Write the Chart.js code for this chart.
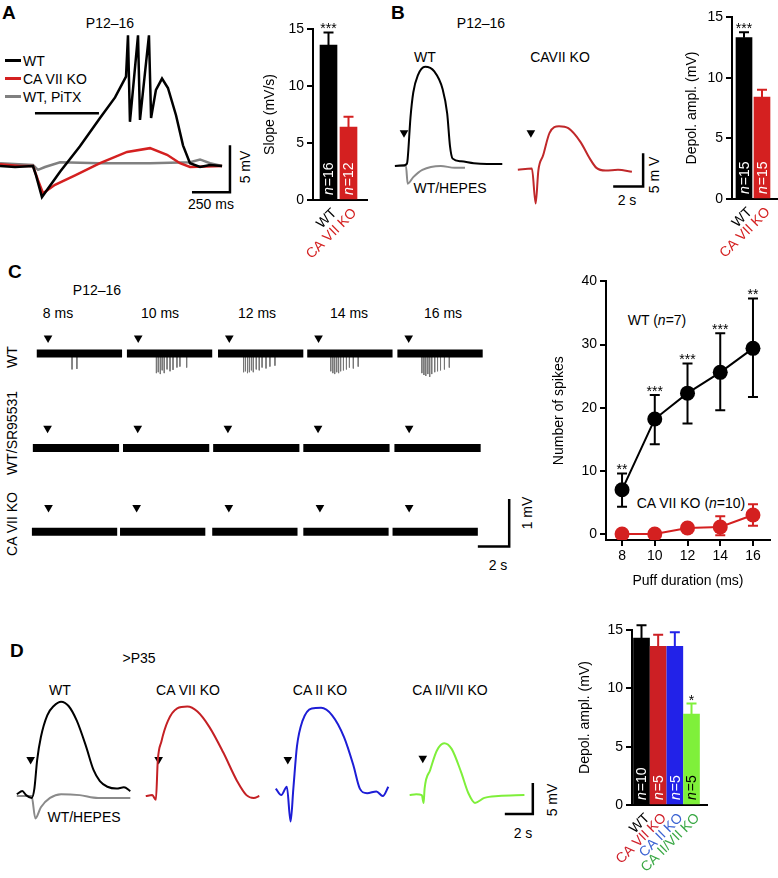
<!DOCTYPE html>
<html>
<head>
<meta charset="UTF-8">
<title>CA VII depolarization figure</title>
<script src="https://cdn.jsdelivr.net/npm/chart.js"></script>
<style>
body { margin: 0; background: #fff; font-family: 'Liberation Sans', Arial, sans-serif; color: #000; }
#fig { position: relative; width: 778px; height: 878px; overflow: hidden; }
canvas { position: absolute; }
.t { position: absolute; font-size: 14px; line-height: 1; white-space: nowrap; transform: translate(-50%, -50%); }
.rot { transform: translate(-50%, -50%) rotate(-90deg); }
.pl { position: absolute; font-size: 19px; font-weight: bold; line-height: 1; }
.leg { position: absolute; height: 3px; width: 16px; }
</style>
</head>
<body>
<div id="fig">
    <!-- panel A -->
    <div class="pl" style="left:2px; top:3px;">A</div>
    <div class="t" style="left:110px; top:23px;">P12–16</div>
    <div class="leg" style="left:5px; top:59px; background:#000;"></div>
    <div class="t" style="left:23px; top:61px; transform:translate(0,-50%);">WT</div>
    <div class="leg" style="left:5px; top:77px; background:#d42020;"></div>
    <div class="t" style="left:23px; top:79px; transform:translate(0,-50%);">CA VII KO</div>
    <div class="leg" style="left:5px; top:95px; background:#808080;"></div>
    <div class="t" style="left:23px; top:97px; transform:translate(0,-50%);">WT, PiTX</div>
    <div class="t rot" style="left:245px; top:167px;">5 mV</div>
    <div class="t" style="left:211px; top:204px;">250 ms</div>
    <canvas id="traceA" width="240" height="200" style="left:0; top:20px;"></canvas>
    <canvas id="barA" width="119" height="250" style="left:258px; top:10px;"></canvas>

    <!-- panel B -->
    <div class="pl" style="left:391px; top:3px;">B</div>
    <div class="t" style="left:481px; top:23px;">P12–16</div>
    <div class="t" style="left:425px; top:57px;">WT</div>
    <div class="t" style="left:560px; top:57px;">CAVII KO</div>
    <div class="t" style="left:450px; top:188px;">WT/HEPES</div>
    <div class="t" style="left:627px; top:200px;">2 s</div>
    <div class="t rot" style="left:654px; top:175px;">5 m V</div>
    <canvas id="traceBwt" width="122" height="180" style="left:388px; top:40px;"></canvas>
    <canvas id="traceBko" width="155" height="180" style="left:510px; top:40px;"></canvas>
    <canvas id="barB" width="98" height="254" style="left:680px; top:5px;"></canvas>

    <!-- panel C -->
    <div class="pl" style="left:8px; top:262px;">C</div>
    <div class="t" style="left:97px; top:290px;">P12–16</div>
    <div class="t" style="left:58px; top:313px;">8 ms</div>
    <div class="t" style="left:160px; top:313px;">10 ms</div>
    <div class="t" style="left:257px; top:313px;">12 ms</div>
    <div class="t" style="left:349px; top:313px;">14 ms</div>
    <div class="t" style="left:443px; top:313px;">16 ms</div>
    <div class="t rot" style="left:12px; top:357px;">WT</div>
    <div class="t rot" style="left:12px; top:433px;">WT/SR95531</div>
    <div class="t rot" style="left:12px; top:524px;">CA VII KO</div>
    <div class="t rot" style="left:527px; top:513px;">1 mV</div>
    <div class="t" style="left:498px; top:565px;">2 s</div>
    <div class="t" style="left:657px; top:320px;">WT (<i>n</i>=7)</div>
    <div class="t" style="left:691px; top:503px;">CA VII KO (<i>n</i>=10)</div>
    <canvas id="rowWT" width="500" height="68" style="left:20px; top:322px;"></canvas>
    <canvas id="rowSR" width="500" height="50" style="left:20px; top:415px;"></canvas>
    <canvas id="rowKO" width="500" height="72" style="left:20px; top:488px;"></canvas>
    <canvas id="spikesC" width="238" height="320" style="left:540px; top:270px;"></canvas>

    <!-- panel D -->
    <div class="pl" style="left:10px; top:641px;">D</div>
    <div class="t" style="left:139px; top:658px;">&gt;P35</div>
    <div class="t" style="left:60px; top:690px;">WT</div>
    <div class="t" style="left:188px; top:690px;">CA VII KO</div>
    <div class="t" style="left:320px; top:690px;">CA II KO</div>
    <div class="t" style="left:450px; top:690px;">CA II/VII KO</div>
    <div class="t" style="left:84px; top:817px;">WT/HEPES</div>
    <div class="t rot" style="left:552px; top:800px;">5 mV</div>
    <div class="t" style="left:523px; top:833px;">2 s</div>
    <canvas id="traceDwt" width="130" height="170" style="left:10px; top:680px;"></canvas>
    <canvas id="traceDca7" width="130" height="170" style="left:138px; top:680px;"></canvas>
    <canvas id="traceDca2" width="130" height="170" style="left:268px; top:680px;"></canvas>
    <canvas id="traceDca27" width="150" height="170" style="left:400px; top:680px;"></canvas>
    <canvas id="barD" width="144" height="265" style="left:573px; top:610px;"></canvas>
</div>

<script>
// ---------------- data ----------------
// A: ramp responses (time ms, membrane potential mV)
var aT_wt = [0, 99, 217, 237, 276, 395, 526, 658, 757, 829, 842, 855, 908, 921, 980, 994, 1026, 1066, 1105, 1158, 1204, 1250, 1316, 1382, 1461];
var aV_wt = [0, -0.1, 0, -1.0, -3.3, -0.6, 2.1, 5.1, 7.3, 9.5, 13.9, 4.7, 13.9, 4.9, 13.9, 5.1, 8.1, 9.3, 8.3, 5.4, 2.2, 0.3, -0.1, 0.1, 0];
var aT_ko = [0, 132, 217, 250, 283, 362, 494, 658, 836, 987, 1099, 1184, 1250, 1461];
var aV_ko = [0.2, 0, 0, -1.5, -2.9, -2.0, -1.0, 0.3, 1.5, 1.9, 1.2, 0.3, -0.1, 0];
var aT_pitx = [0, 217, 250, 296, 395, 658, 987, 1250, 1316, 1382, 1461];
var aV_pitx = [0.3, 0.1, -0.4, -0.1, 0.4, 0.3, 0.3, 0.4, 0.7, 0.3, 0];
var aPuffT = [230, 651];
var aPuffV = [5.6, 5.6];
var aScaleT = [1263, 1513, 1513];
var aScaleV = [-2.8, -2.8, 2.2];

// A: slope bar chart
var slopeCats = ['WT', 'CA VII KO'];
var slopeMean = [13.6, 6.4];
var slopeSem = [1.1, 0.9];
var slopeN = [16, 12];
var slopeStars = ['***', ''];

// B: depolarizations (time s, mV)
var bT_wt = [0.13, 0.75, 0.94, 1.0, 1.19, 1.38, 1.69, 2.19, 2.81, 3.38, 3.69, 3.88, 4.06, 4.63, 5.5, 6.4, 7.44];
var bV_wt = [0, 0.1, 0.3, 1.1, 7.3, 11.1, 13.7, 15.0, 14.3, 11.6, 7.9, 3.0, 1.1, 0.7, 0.4, 0.3, 0.3];
var bT_hepes = [0.13, 0.88, 1.0, 1.38, 2.0, 3.25, 4.2, 4.9];
var bV_hepes = [0, 0, -2.7, -1.7, -0.6, 0, -0.3, -0.3];
var bT_ko = [0.19, 1.13, 1.38, 1.56, 1.88, 2.31, 2.94, 3.56, 4.38, 5.0, 5.44, 6.06, 6.88, 7.81];
var bV_ko = [-0.6, -0.4, -5.7, -0.7, 1.6, 5.0, 6.0, 5.7, 3.6, 1.1, -0.3, -0.7, -0.6, -0.9];
var bPuffWT = [0.75, 5];
var bPuffKO = [1.06, 5];
var bScaleT = [6.56, 8.56, 8.56];
var bScaleV = [-3.1, -3.1, 1.9];

// B: amplitude bar chart
var ampCatsB = ['WT', 'CA VII KO'];
var ampMeanB = [13.3, 8.4];
var ampSemB = [0.45, 0.6];
var ampNB = [15, 15];
var ampStarsB = ['***', ''];

// C: extracellular recordings, sweep start times (s)
var cStartWT = [0.75, 6.5, 12.31, 18, 23.75];
var cStartSR = [0.5, 6.25, 12, 17.75, 23.56];
var cStartKO = [0.44, 6.06, 11.94, 17.75, 23.44];
var cLenWT = 5.44, cLenSR = 5.5, cLenKO = 5.44;
var cPuffWT = 0.72, cPuffSR = 0.94, cPuffKO = 1.06;
// WT spikes: times after sweep start (s) and amplitudes (mV)
var cSpikeT = [
    [2.25, 2.56],
    [1.88, 2.0, 2.13, 2.25, 2.38, 2.56, 2.75, 2.94, 3.19, 3.38, 3.81],
    [1.63, 1.75, 1.88, 2.0, 2.13, 2.25, 2.44, 2.63, 2.81, 3.06, 3.31, 3.63],
    [1.5, 1.63, 1.75, 1.88, 2.0, 2.13, 2.31, 2.5, 2.69, 2.94, 3.25],
    [1.56, 1.69, 1.81, 1.94, 2.06, 2.19, 2.38, 2.56, 2.75, 3.0, 3.31]
];
var cSpikeV = [
    [-0.34, -0.33],
    [-0.42, -0.4, -0.44, -0.36, -0.42, -0.34, -0.38, -0.35, -0.3, -0.28, -0.3],
    [-0.4, -0.38, -0.42, -0.4, -0.36, -0.4, -0.34, -0.36, -0.3, -0.32, -0.28, -0.26],
    [-0.38, -0.42, -0.44, -0.4, -0.42, -0.38, -0.36, -0.34, -0.3, -0.32, -0.28],
    [-0.42, -0.46, -0.48, -0.44, -0.5, -0.44, -0.4, -0.38, -0.36, -0.34, -0.3]
];
var cScaleT = [28.88, 30.88, 30.88];
var cScaleV = [-0.31, -0.31, 0.69];

// C: number of spikes vs puff duration
var puffMs = [8, 10, 12, 14, 16];
var spikesWT = [7.0, 18.2, 22.3, 25.6, 29.4];
var spikesWTlo = [4.3, 14.2, 17.5, 19.6, 21.7];
var spikesWThi = [9.6, 22.0, 27.0, 31.8, 37.3];
var spikesKO = [0, 0, 0.95, 1.1, 3.0];
var spikesKOlo = [0, 0, 0.7, -0.2, 1.3];
var spikesKOhi = [0, 0, 1.2, 2.8, 4.7];
var spikesStars = ['**', '***', '***', '***', '**'];

// D: depolarizations >P35 (time s, mV)
var dT_wt = [0.13, 0.53, 0.8, 1.2, 1.4, 1.6, 1.87, 2.33, 2.8, 3.33, 3.87, 4.47, 5.13, 5.67, 6.13, 6.67, 7.33, 7.87, 8.33];
var dV_wt = [0.3, 0.8, 0.15, -0.3, 1.2, 5.8, 9.5, 13.0, 14.5, 15.2, 14.5, 12.1, 8.0, 4.2, 2.4, 1.5, 1.2, 1.4, 0.8];
var dT_hepes = [0.13, 1.2, 1.47, 1.87, 2.53, 3.33, 4.67, 6, 8.33];
var dV_hepes = [0, 0, -3.6, -1.8, -0.3, 0.3, 0.15, -0.3, -0.3];
var dT_ca7 = [0.2, 0.67, 0.93, 1.07, 1.33, 1.8, 2.47, 3.2, 3.93, 4.8, 5.8, 6.8, 7.47, 8, 8.4];
var dV_ca7 = [0, 0.15, -0.6, 5.8, 8.8, 12.1, 14.1, 14.4, 13.6, 11.1, 7.0, 2.4, 0.15, -0.3, 0];
var dT_ca2 = [0.2, 0.6, 1.0, 1.27, 1.47, 1.73, 2.13, 2.8, 3.47, 4.27, 5.13, 5.8, 6.27, 6.8, 7.47, 7.93, 8.33];
var dV_ca2 = [1.2, 0.15, 1.5, -4.1, 1.2, 8.0, 12.1, 14.1, 14.2, 13.0, 9.5, 5.0, 1.2, 0.45, 0.75, 0, 1.5];
var dT_ca27 = [0.33, 0.8, 1.2, 1.33, 1.4, 1.8, 2.27, 2.8, 3.33, 4.0, 4.53, 5.0, 5.67, 6.67, 8.53];
var dV_ca27 = [0.15, 0.3, 0.15, -1.1, 1.2, 4.2, 7.3, 8.5, 7.6, 3.9, 0.45, -1.1, -0.3, 0, 0.15];
var dPuffT = [1.13, 1.13, 1.07, 1.27];
var dPuffV = [5.9, 5.9, 5.9, 6.1];
var dScaleT = [7.13, 9.13, 9.13];
var dScaleV = [-2.9, -2.9, 2.1];

// D: amplitude bar chart
var ampCatsD = ['WT', 'CA VII KO', 'CA II KO', 'CA II/VII KO'];
var ampMeanD = [14.3, 13.6, 13.6, 7.8];
var ampSemD = [1.1, 1.0, 1.2, 0.9];
var ampND = [10, 5, 5, 5];
var ampStarsD = ['', '', '', '*'];

// ---------------- helpers ----------------
Chart.defaults.font.family = "'Liberation Sans', Arial, sans-serif";
Chart.defaults.font.size = 14;
Chart.defaults.color = '#000';

var RED = '#d42020';

function pts(xs, ys) {
    return xs.map(function (x, i) { return { x: x, y: ys[i] }; });
}

function trace(xs, ys, color, width, tension) {
    return {
        data: pts(xs, ys), borderColor: color, borderWidth: width || 2,
        pointRadius: 0, tension: tension || 0, cubicInterpolationMode: tension ? 'monotone' : 'default',
        clip: false
    };
}

function arrows(xs, ys) {
    return {
        data: pts(xs, ys), showLine: false, pointStyle: 'triangle', rotation: 180,
        pointRadius: 5, pointBackgroundColor: '#000', pointBorderWidth: 0, clip: false
    };
}

function scaleBar(xs, ys) {
    return { data: pts(xs, ys), borderColor: '#000', borderWidth: 2.5, pointRadius: 0, clip: false };
}

// sweeps drawn as thick bands, separated by gaps
function sweeps(starts, len, width) {
    var d = [];
    starts.forEach(function (s) {
        d.push({ x: s, y: 0 }, { x: s + len, y: 0 }, { x: s + len, y: null });
    });
    return { data: d, borderColor: '#000', borderWidth: width, pointRadius: 0, spanGaps: false, borderCapStyle: 'butt', clip: false };
}

function spikeLines(starts, times, amps) {
    var d = [];
    starts.forEach(function (s, k) {
        times[k].forEach(function (t, j) {
            d.push({ x: s + t, y: 0 }, { x: s + t, y: amps[k][j] }, { x: s + t, y: null });
        });
    });
    return { data: d, borderColor: '#777', borderWidth: 1, pointRadius: 0, spanGaps: false, clip: false };
}

function traceChart(id, sets, xr, yr) {
    return new Chart(document.getElementById(id), {
        type: 'line',
        data: { datasets: sets },
        options: {
            animation: false, responsive: false, events: [],
            layout: { padding: 0 },
            plugins: { legend: { display: false }, tooltip: { enabled: false } },
            scales: {
                x: { type: 'linear', display: false, min: xr[0], max: xr[1] },
                y: { display: false, min: yr[0], max: yr[1] }
            }
        }
    });
}

// error bars, stars and n labels on bar charts
var barMarks = {
    id: 'barMarks',
    afterDatasetsDraw: function (chart) {
        var o = chart.options.plugins.barMarks;
        var y = chart.scales.y;
        var ctx = chart.ctx;
        ctx.save();
        chart.getDatasetMeta(0).data.forEach(function (bar, i) {
            var top = y.getPixelForValue(o.mean[i] + o.sem[i]);
            ctx.strokeStyle = o.colors[i];
            ctx.lineWidth = 2;
            ctx.beginPath();
            ctx.moveTo(bar.x, bar.y);
            ctx.lineTo(bar.x, top);
            ctx.moveTo(bar.x - 5, top);
            ctx.lineTo(bar.x + 5, top);
            ctx.stroke();
            if (o.stars[i]) {
                ctx.fillStyle = '#000';
                ctx.font = "14px 'Liberation Sans', Arial";
                ctx.textAlign = 'center';
                ctx.textBaseline = 'alphabetic';
                ctx.fillText(o.stars[i], bar.x, top + 1);
            }
            ctx.save();
            ctx.translate(bar.x, bar.base - 4);
            ctx.rotate(-Math.PI / 2);
            ctx.fillStyle = o.nColors[i];
            ctx.textAlign = 'left';
            ctx.textBaseline = 'middle';
            ctx.font = "italic 14px 'Liberation Sans', Arial";
            ctx.fillText('n', 0, 1);
            var w = ctx.measureText('n').width;
            ctx.font = "14px 'Liberation Sans', Arial";
            ctx.fillText('=' + o.n[i], w + 1, 1);
            ctx.restore();
        });
        ctx.restore();
    }
};

function barChart(id, cfg) {
    return new Chart(document.getElementById(id), {
        type: 'bar',
        data: {
            datasets: [{
                data: cfg.mean.map(function (v, i) { return { x: i, y: v }; }),
                backgroundColor: cfg.colors, borderWidth: 0, barThickness: cfg.barW
            }]
        },
        options: {
            animation: false, responsive: false, events: [],
            layout: { padding: { top: cfg.padTop, right: cfg.padRight, left: 0, bottom: 0 } },
            plugins: {
                legend: { display: false }, tooltip: { enabled: false },
                barMarks: {
                    mean: cfg.mean, sem: cfg.sem, n: cfg.n, stars: cfg.stars,
                    colors: cfg.colors, nColors: cfg.nColors
                }
            },
            scales: {
                x: {
                    type: 'linear', min: cfg.xRange[0], max: cfg.xRange[1], offset: false,
                    grid: { display: false },
                    border: { display: true, color: '#000', width: 2 },
                    afterBuildTicks: function (s) { s.ticks = cfg.cats.map(function (c, i) { return { value: i }; }); },
                    afterFit: function (s) { s.height = cfg.xH; },
                    ticks: {
                        autoSkip: false, minRotation: 45, maxRotation: 45, padding: -3, labelOffset: 6,
                        color: function (c) { return cfg.labelColors[c.index]; },
                        callback: function (v) { return cfg.cats[v]; }
                    }
                },
                y: {
                    min: 0, max: 15,
                    afterBuildTicks: function (s) { s.ticks = [0, 5, 10, 15].map(function (v) { return { value: v }; }); },
                    afterFit: function (s) { s.width = cfg.yW; },
                    grid: { drawOnChartArea: false, drawTicks: true, tickLength: 6, color: '#000', lineWidth: 2 },
                    border: { display: true, color: '#000', width: 2 },
                    ticks: { padding: 3 },
                    title: { display: true, text: cfg.yTitle, padding: { top: 4, bottom: 0 } }
                }
            }
        },
        plugins: [barMarks]
    });
}

// ---------------- panel A ----------------
traceChart('traceA', [
    trace(aT_wt, aV_wt, '#000', 2.5),
    trace(aT_ko, aV_ko, RED, 2.5),
    trace(aT_pitx, aV_pitx, '#808080', 2.5),
    scaleBar(aPuffT, aPuffV),
    scaleBar(aScaleT, aScaleV)
], [0, 1579], [-5.74, 15.53]);

barChart('barA', {
    cats: slopeCats, mean: slopeMean, sem: slopeSem, n: slopeN, stars: slopeStars,
    colors: ['#000', RED], nColors: ['#fff', '#fff'], labelColors: ['#000', RED],
    yTitle: 'Slope (mV/s)', barW: 17, xRange: [-0.775, 1.925],
    padTop: 19, padRight: 10, yW: 55, xH: 60
});

// ---------------- panel B ----------------
traceChart('traceBwt', [
    trace(bT_wt, bV_wt, '#000', 2, 0.4),
    trace(bT_hepes, bV_hepes, '#8a8a8a', 2, 0.4),
    arrows([bPuffWT[0]], [bPuffWT[1]])
], [0, 7.625], [-7.43, 18.29]);

traceChart('traceBko', [
    trace(bT_ko, bV_ko, '#c0282a', 2, 0.4),
    arrows([bPuffKO[0]], [bPuffKO[1]]),
    scaleBar(bScaleT, bScaleV)
], [0, 9.6875], [-7.43, 18.29]);

barChart('barB', {
    cats: ampCatsB, mean: ampMeanB, sem: ampSemB, n: ampNB, stars: ampStarsB,
    colors: ['#000', RED], nColors: ['#fff', '#fff'], labelColors: ['#000', RED],
    yTitle: 'Depol. ampl. (mV)', barW: 16, xRange: [-0.667, 1.889],
    padTop: 12, padRight: 0, yW: 52, xH: 60
});

// ---------------- panel C ----------------
traceChart('rowWT', [
    sweeps(cStartWT, cLenWT, 8),
    spikeLines(cStartWT, cSpikeT, cSpikeV),
    arrows(cStartWT.map(function (s) { return s + cPuffWT; }), cStartWT.map(function () { return 0.33; }))
], [0, 31.25], [-0.673, 0.564]);

traceChart('rowSR', [
    sweeps(cStartSR, cLenSR, 8),
    arrows(cStartSR.map(function (s) { return s + cPuffSR; }), cStartSR.map(function () { return 0.45; }))
], [0, 31.25], [-0.273, 0.636]);

traceChart('rowKO', [
    sweeps(cStartKO, cLenKO, 8),
    arrows(cStartKO.map(function (s) { return s + cPuffKO; }), cStartKO.map(function () { return 0.51; })),
    scaleBar(cScaleT, cScaleV)
], [0, 31.25], [-0.491, 0.818]);

var errMarks = {
    id: 'errMarks',
    beforeDatasetsDraw: function (chart) {
        var ctx = chart.ctx, xs = chart.scales.x, ys = chart.scales.y;
        ctx.save();
        chart.data.datasets.forEach(function (ds) {
            ctx.strokeStyle = ds.borderColor;
            ctx.lineWidth = 2;
            ds.data.forEach(function (p, i) {
                if (ds.errHi[i] === ds.errLo[i]) return;
                var x = xs.getPixelForValue(p.x);
                var hi = ys.getPixelForValue(ds.errHi[i]);
                var lo = ys.getPixelForValue(ds.errLo[i]);
                ctx.beginPath();
                ctx.moveTo(x, hi); ctx.lineTo(x, lo);
                ctx.moveTo(x - 5, hi); ctx.lineTo(x + 5, hi);
                ctx.moveTo(x - 5, lo); ctx.lineTo(x + 5, lo);
                ctx.stroke();
                if (ds.stars && ds.stars[i]) {
                    ctx.fillStyle = '#000';
                    ctx.font = "14px 'Liberation Sans', Arial";
                    ctx.textAlign = 'center';
                    ctx.textBaseline = 'alphabetic';
                    ctx.fillText(ds.stars[i], x, hi + 1);
                }
            });
        });
        ctx.restore();
    }
};

new Chart(document.getElementById('spikesC'), {
    type: 'line',
    data: {
        datasets: [
            {
                data: pts(puffMs, spikesWT), errLo: spikesWTlo, errHi: spikesWThi, stars: spikesStars,
                borderColor: '#000', borderWidth: 2, pointRadius: 7.5,
                pointBackgroundColor: '#000', pointBorderWidth: 0
            },
            {
                data: pts(puffMs, spikesKO), errLo: spikesKOlo, errHi: spikesKOhi,
                borderColor: RED, borderWidth: 2, pointRadius: 7.5,
                pointBackgroundColor: RED, pointBorderWidth: 0
            }
        ]
    },
    options: {
        animation: false, responsive: false, events: [],
        layout: { padding: { top: 11, right: 8, left: 0, bottom: 0 } },
        plugins: { legend: { display: false }, tooltip: { enabled: false } },
        scales: {
            x: {
                type: 'linear', min: 7.02, max: 17.04,
                afterBuildTicks: function (s) { s.ticks = puffMs.map(function (v) { return { value: v }; }); },
                afterFit: function (s) { s.height = 50; },
                grid: { drawOnChartArea: false, drawTicks: true, tickLength: 6, color: '#000', lineWidth: 2 },
                border: { display: true, color: '#000', width: 2 },
                ticks: { padding: 2 },
                title: { display: true, text: 'Puff duration (ms)', padding: { top: 4, bottom: 0 } }
            },
            y: {
                min: -0.95, max: 40,
                afterBuildTicks: function (s) { s.ticks = [0, 10, 20, 30, 40].map(function (v) { return { value: v }; }); },
                afterFit: function (s) { s.width = 66; },
                grid: { drawOnChartArea: false, drawTicks: true, tickLength: 6, color: '#000', lineWidth: 2 },
                border: { display: true, color: '#000', width: 2 },
                ticks: { padding: 3 },
                title: { display: true, text: 'Number of spikes', padding: { top: 11, bottom: 0 } }
            }
        }
    },
    plugins: [errMarks]
});

// ---------------- panel D ----------------
var dY = [-7.88, 17.88];
traceChart('traceDwt', [
    trace(dT_wt, dV_wt, '#000', 2, 0.4),
    trace(dT_hepes, dV_hepes, '#8a8a8a', 2, 0.4),
    arrows([dPuffT[0]], [dPuffV[0]])
], [0, 8.667], dY);
traceChart('traceDca7', [
    trace(dT_ca7, dV_ca7, '#c42024', 2, 0.4),
    arrows([dPuffT[1]], [dPuffV[1]])
], [0, 8.667], dY);
traceChart('traceDca2', [
    trace(dT_ca2, dV_ca2, '#1d1dd6', 2, 0.4),
    arrows([dPuffT[2]], [dPuffV[2]])
], [0, 8.667], dY);
traceChart('traceDca27', [
    trace(dT_ca27, dV_ca27, '#7eef3a', 2, 0.4),
    arrows([dPuffT[3]], [dPuffV[3]]),
    scaleBar(dScaleT, dScaleV)
], [0, 10], dY);

barChart('barD', {
    cats: ampCatsD, mean: ampMeanD, sem: ampSemD, n: ampND, stars: ampStarsD,
    colors: ['#000', '#cc1f24', '#2222e8', '#7ff03a'], nColors: ['#fff', '#fff', '#fff', '#000'],
    labelColors: ['#000', '#d0202a', '#3a62d2', '#3aa845'],
    yTitle: 'Depol. ampl. (mV)', barW: 16, xRange: [-0.57, 3.93],
    padTop: 20, padRight: 10, yW: 59, xH: 70
});
</script>
</body>
</html>
